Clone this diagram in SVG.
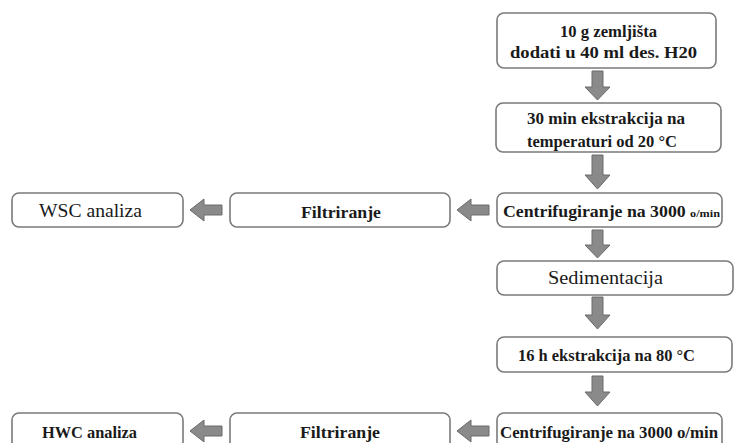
<svg xmlns="http://www.w3.org/2000/svg" width="734" height="443" viewBox="0 0 734 443">
<style>
.box{fill:#fff;stroke:#7a7a7a;stroke-width:1.6}
.t{font-family:"Liberation Serif","Times New Roman",serif;fill:#1a1a1a;text-anchor:middle}
.b{font-weight:bold;font-size:16px}
.r{font-size:18px}
.arr{fill:#8a8a8a;stroke:#6a6a6a;stroke-width:1}
</style>
<rect width="734" height="443" fill="#fff"/>
<g id="connectors">
<path class="arr" d="M592 71 H603 V87 H610 L597.5 100 L585 87 H592 Z"/>
<path class="arr" d="M592 155 H603 V175 H610 L597.5 189 L585 175 H592 Z"/>
<path class="arr" d="M592 230 H603 V245 H610 L597.5 258 L585 245 H592 Z"/>
<path class="arr" d="M592 297 H603 V315 H610 L597.5 329 L585 315 H592 Z"/>
<path class="arr" d="M592 376 H603 V392 H610 L597.5 406 L585 392 H592 Z"/>
<path class="arr" d="M489 205 V215 H471 V221 L457 210 L471 199 V205 Z"/>
<path class="arr" d="M222 205 V215 H204 V221 L190 210 L204 199 V205 Z"/>
<path class="arr" d="M489 426 V436 H471 V442 L457 431 L471 420 V426 Z"/>
<path class="arr" d="M222 426 V436 H204 V442 L190 431 L204 420 V426 Z"/>
</g>
<g id="n1"><rect class="box" x="497" y="13" width="219" height="55" rx="7"/>
<text class="t b" x="608.5" y="37" textLength="97" lengthAdjust="spacingAndGlyphs">10 g zemljišta</text>
<text class="t b" x="603.5" y="58" textLength="187" lengthAdjust="spacingAndGlyphs">dodati u 40 ml des. H20</text></g>
<g id="n2"><rect class="box" x="496" y="103" width="225" height="49" rx="7"/>
<text class="t b" x="606" y="124" textLength="158" lengthAdjust="spacingAndGlyphs">30 min ekstrakcija na</text>
<text class="t b" x="602" y="147" textLength="150" lengthAdjust="spacingAndGlyphs">temperaturi od 20 °C</text></g>
<g id="n3"><rect class="box" x="497" y="193" width="225" height="34" rx="7"/>
<text class="t b" x="611.5" y="217" textLength="217" lengthAdjust="spacingAndGlyphs">Centrifugiranje na 3000 <tspan font-size="11">o/min</tspan></text></g>
<g id="n4"><rect class="box" x="230" y="193" width="220" height="34" rx="7"/>
<text class="t b" x="341" y="218" textLength="80" lengthAdjust="spacingAndGlyphs">Filtriranje</text></g>
<g id="n5"><rect class="box" x="12" y="193" width="171" height="34" rx="7"/>
<text class="t r" x="90.5" y="217" textLength="103" lengthAdjust="spacingAndGlyphs">WSC analiza</text></g>
<g id="n6"><rect class="box" x="497" y="261" width="236" height="34" rx="7"/>
<text class="t r" x="605.5" y="284" textLength="115" lengthAdjust="spacingAndGlyphs">Sedimentacija</text></g>
<g id="n7"><rect class="box" x="497" y="337" width="235" height="35" rx="7"/>
<text class="t b" x="606.5" y="361" textLength="177" lengthAdjust="spacingAndGlyphs">16 h ekstrakcija na 80 °C</text></g>
<g id="n8"><rect class="box" x="497" y="413" width="225" height="40" rx="7"/>
<text class="t b" x="609" y="438" textLength="218" lengthAdjust="spacingAndGlyphs">Centrifugiranje na 3000 o/min</text></g>
<g id="n9"><rect class="box" x="230" y="413" width="220" height="40" rx="7"/>
<text class="t b" x="340" y="438" textLength="80" lengthAdjust="spacingAndGlyphs">Filtriranje</text></g>
<g id="n10"><rect class="box" x="12" y="413" width="171" height="40" rx="7"/>
<text class="t b" x="89.5" y="438" textLength="95" lengthAdjust="spacingAndGlyphs">HWC analiza</text></g>
</svg>
